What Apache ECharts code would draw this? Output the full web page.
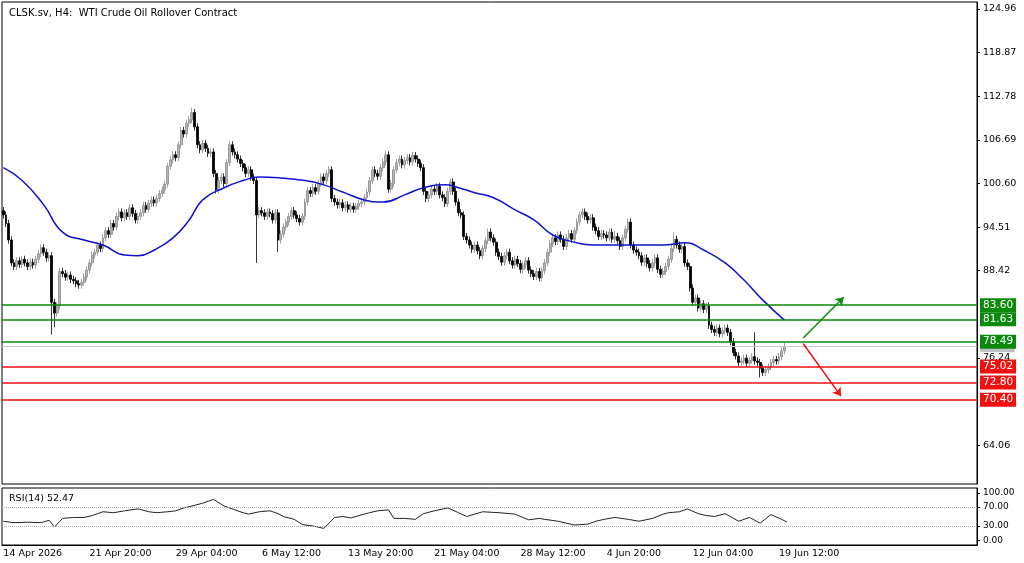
<!DOCTYPE html>
<html><head><meta charset="utf-8">
<script src="https://cdn.jsdelivr.net/npm/echarts@6/dist/echarts.min.js"></script>
<style>html,body{margin:0;padding:0;background:#fff}#c{width:1024px;height:563px}</style>
</head><body><div id="c"></div>
<script>
const closes = [
96.2,95.0,92.7,89.5,89.0,89.8,89.3,90.0,89.5,89.0,
89.6,89.2,90.0,90.8,91.6,91.0,90.2,90.5,84.0,82.5,
83.5,88.3,88.0,87.5,87.8,87.2,87.0,86.6,86.4,86.8,
87.5,88.5,89.5,90.6,91.0,92.0,91.5,93.0,94.0,93.5,
95.0,94.5,96.0,96.6,95.8,96.5,96.0,97.2,96.4,95.5,
96.0,96.5,97.5,97.0,97.8,98.3,97.9,98.5,99.2,99.7,
100.5,103.0,103.9,104.6,104.2,106.0,108.0,107.5,109.0,109.5,
110.5,108.5,106.0,105.3,106.2,105.5,104.8,105.0,102.0,99.7,
101.0,101.5,100.6,103.5,106.0,105.0,104.6,104.0,103.4,102.8,
102.0,102.5,101.5,101.0,96.2,96.8,96.5,96.0,96.6,96.4,
95.5,96.5,92.7,93.5,94.5,95.2,96.0,96.8,96.2,95.7,
95.2,96.0,98.0,99.6,99.2,100.0,99.5,100.6,101.5,101.0,
102.0,102.5,98.5,98.0,97.6,97.9,97.2,97.6,97.0,97.4,
97.0,97.4,97.8,98.0,98.6,99.4,101.0,102.5,102.0,101.6,
102.8,103.6,104.6,99.8,100.6,102.5,103.5,104.0,103.2,103.8,
104.2,103.6,104.5,104.0,103.4,102.8,99.5,98.5,99.0,99.8,
99.5,100.2,99.0,98.6,97.8,99.5,100.8,99.5,98.0,96.5,
96.2,93.2,92.7,92.0,91.4,92.0,91.2,90.5,91.5,92.6,
93.8,93.0,92.4,91.0,90.4,89.6,90.5,91.0,89.8,89.2,
90.0,89.4,88.6,89.2,89.8,88.5,88.0,87.6,88.3,87.4,
88.4,89.5,91.0,92.2,93.0,92.5,93.4,92.8,91.8,93.0,
93.6,92.8,94.0,95.2,96.2,96.6,96.0,95.5,95.8,94.5,
94.0,93.2,93.6,93.4,93.0,93.8,92.8,93.2,92.6,91.8,
93.0,94.2,95.2,92.0,91.3,91.0,90.5,89.6,90.2,89.4,
88.8,89.5,90.2,88.6,87.9,88.3,89.0,90.0,91.5,92.8,
92.0,91.4,91.8,89.5,89.0,86.0,84.0,84.6,83.2,83.8,
83.0,83.5,80.8,80.2,79.8,80.4,79.6,80.0,80.4,79.8,
78.5,77.0,76.5,75.6,75.8,76.2,75.5,75.9,76.4,75.8,
75.6,74.8,74.2,74.6,75.0,75.6,76.0,75.8,76.4,77.2,77.83];
const firstOpen = 96.8;
const longWicksLow = [[18,79.5],[19,80.5],[94,89.5],[102,91.0],[281,73.5]];
const longWicksHigh = [[70,111.2],[227,94.0],[249,93.8],[279,79.8],[291,78.6]];
const maIdx = [0,7,15,22,30,37,45,50,56,63,69,74,82,89,95,102,112,119,126,134,141,149,156,164,169,175,182,190,197,204,212,219,227,234,245,253,260,268,275,282,290];
const maVal = [102.8,101.0,97.6,93.8,92.7,92.0,90.6,90.5,91.3,93.0,95.5,98.3,100.0,101.0,101.5,101.4,101.0,100.4,99.4,98.3,98.0,99.0,100.0,100.4,100.0,99.3,98.6,96.9,95.5,93.4,92.4,92.0,92.0,92.0,92.0,92.3,91.3,89.5,87.1,84.3,81.5];
const rsiIdx = [0,4,9,14,17,19,22,26,30,33,37,41,45,50,54,57,61,64,67,70,74,78,82,86,89,91,95,99,102,104,108,111,115,119,123,126,129,132,136,139,143,145,149,153,156,160,165,169,172,175,178,184,190,195,199,201,206,212,217,220,223,227,232,236,241,245,247,251,254,258,261,264,268,273,277,281,285,289,291];
const rsiVal = [40,37,38,37,42,28,46,48,48,52,60,58,62,66,60,58,60,62,68,72,78,86,72,64,58,55,60,62,56,50,44,33,30,25,48,50,47,52,58,62,64,46,46,44,56,62,68,58,50,55,60,58,55,43,46,44,40,32,34,40,44,48,44,40,46,55,58,60,66,56,52,50,56,40,48,36,54,44,38,33,30,29,27,25,32,28,37,45,52];
const dateLabels = ['14 Apr 2026','21 Apr 20:00','29 Apr 04:00','6 May 12:00','13 May 20:00','21 May 04:00','28 May 12:00','4 Jun 20:00','12 Jun 04:00','19 Jun 12:00'];
const priceTicks = [124.96,118.87,112.78,106.69,100.60,94.51,88.42,76.24,64.06];
const greenLevels = [83.60,81.63,78.49];
const redLevels = [75.02,72.80,70.40];
const lastPrice = 77.83;
const upArrow = [[297,79.0],[312,84.7]];
const downArrow = [[297,78.2],[311,70.9]];

const TOTAL = 362, STEP = 32;
const cats = [];
for (let i = 0; i < TOTAL; i++) cats.push(i % STEP === 0 && dateLabels[i/STEP] ? dateLabels[i/STEP] : '');
const hiMap = Object.fromEntries(longWicksHigh), loMap = Object.fromEntries(longWicksLow);
const ohlc = closes.map((c, i) => {
  const o = i === 0 ? firstOpen : closes[i-1];
  const h = hiMap[i] !== undefined ? hiMap[i] : Math.max(o, c) + 0.5;
  const l = loMap[i] !== undefined ? loMap[i] : Math.min(o, c) - 0.5;
  return [o, c, l, h];
});
const ma = maIdx.map((x, k) => [x, maVal[k]]);
const rsi = rsiIdx.map((x, k) => [x, rsiVal[k]]);
const F = 'Tahoma, "DejaVu Sans", sans-serif';
function lvl(v, col) {
  return {yAxis: v, lineStyle: {color: col, width: 1.5, type: 'solid'},
    label: {show: true, position: 'end', formatter: v.toFixed(2), color: '#fff', backgroundColor: col,
      padding: [2, 3, 1, 3], fontSize: 10.5, fontFamily: F, distance: 3}};
}
const chart = echarts.init(document.getElementById('c'));
chart.setOption({
  animation: false,
  backgroundColor: '#fff',
  title: [
    {text: 'CLSK.sv, H4:  WTI Crude Oil Rollover Contract', left: 4, top: 3, textStyle: {fontSize: 10, fontWeight: 'normal', color: '#000', fontFamily: F}},
    {text: 'RSI(14) 52.47', left: 4, top: 489, textStyle: {fontSize: 9.5, fontWeight: 'normal', color: '#000', fontFamily: F}}
  ],
  grid: [
    {left: 2, right: 47, top: 2, bottom: 79, show: true, borderColor: '#000', borderWidth: 1},
    {left: 2, right: 47, top: 488, height: 57, show: true, borderColor: '#000', borderWidth: 1}
  ],
  xAxis: [
    {type: 'category', data: cats, gridIndex: 0, boundaryGap: true, axisLine: {show: false}, axisTick: {show: false}, axisLabel: {show: false}},
    {type: 'category', data: cats, gridIndex: 1, boundaryGap: true, axisLine: {onZero: false, lineStyle: {color: '#000'}},
      axisTick: {interval: (i) => i % STEP === 0, length: 3, lineStyle: {color: '#000'}},
      axisLabel: {interval: (i) => i % STEP === 0, align: 'left', margin: 4, fontSize: 9.5, color: '#000', fontFamily: F}}
  ],
  yAxis: [
    {type: 'value', gridIndex: 0, position: 'right', min: 58.62, max: 125.94, splitLine: {show: false},
      axisLine: {show: true, lineStyle: {color: '#000'}}, axisTick: {show: true, customValues: priceTicks, length: 3, lineStyle: {color: '#000'}},
      axisLabel: {customValues: priceTicks, formatter: v => v.toFixed(2), fontSize: 9.5, color: '#000', margin: 6, fontFamily: F}},
    {type: 'value', gridIndex: 1, position: 'right', min: -10, max: 110, splitLine: {show: false},
      axisLine: {show: true, lineStyle: {color: '#000'}}, axisTick: {show: true, customValues: [0,30,70,100], length: 3, lineStyle: {color: '#000'}},
      axisLabel: {customValues: [0,30,70,100], formatter: v => v.toFixed(2), fontSize: 9, color: '#000', margin: 6, fontFamily: F}}
  ],
  series: [
    {type: 'candlestick', xAxisIndex: 0, yAxisIndex: 0, data: ohlc, barWidth: 2.4,
      itemStyle: {color: '#b4b4b4', color0: '#000', borderColor: '#8c8c8c', borderColor0: '#000', borderWidth: 0.8},
      markLine: {symbol: 'none', silent: true, animation: false,
        data: [
          {yAxis: lastPrice, lineStyle: {color: '#c8c8c8', width: 1, type: 'solid'},
            label: {show: true, position: 'end', formatter: lastPrice.toFixed(2), color: '#fff', backgroundColor: '#c0c0c0', padding: [1,3,0,3], fontSize: 10, fontFamily: F, distance: 3}},
          ...greenLevels.map(v => lvl(v, '#0a8a0a')),
          ...redLevels.map(v => lvl(v, '#f01010'))
        ]}},
    {type: 'line', xAxisIndex: 0, yAxisIndex: 0, data: ma, smooth: true, showSymbol: false, lineStyle: {color: '#1010d0', width: 1.5}, z: 3},
    {type: 'line', xAxisIndex: 0, yAxisIndex: 0, data: [], showSymbol: false,
      markLine: {silent: true, symbol: ['none', 'arrow'], symbolSize: 8, label: {show: false},
        data: [
          [{coord: upArrow[0], lineStyle: {color: '#0a8a0a', width: 1.5, type: 'solid'}}, {coord: upArrow[1]}],
          [{coord: downArrow[0], lineStyle: {color: '#f01010', width: 1.5, type: 'solid'}}, {coord: downArrow[1]}]
        ]}},
    {type: 'line', xAxisIndex: 1, yAxisIndex: 1, data: rsi, showSymbol: false, lineStyle: {color: '#222', width: 1},
      markLine: {silent: true, symbol: 'none', label: {show: false},
        data: [{yAxis: 30}, {yAxis: 70}], lineStyle: {color: '#b0b0b0', type: 'dotted', width: 1}}}
  ]
});
</script></body></html>
